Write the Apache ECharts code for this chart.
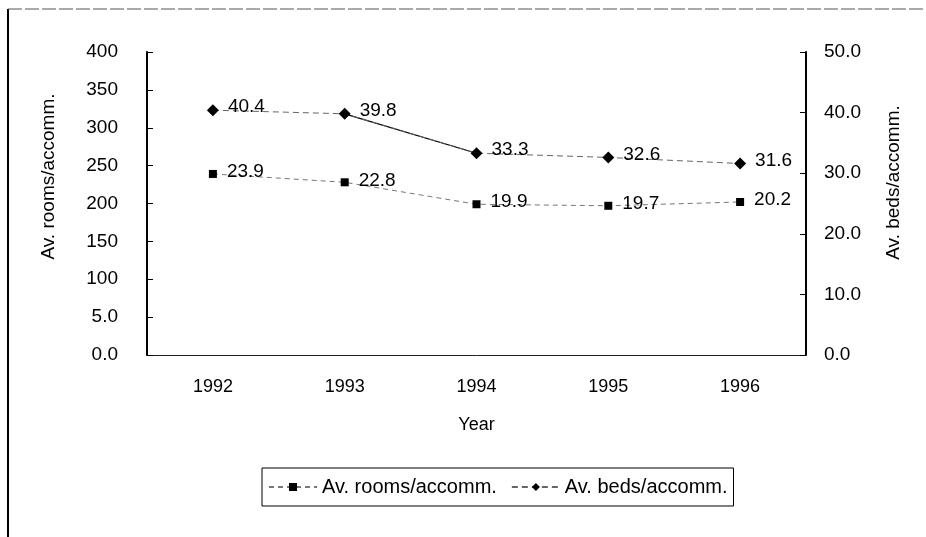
<!DOCTYPE html>
<html>
<head>
<meta charset="utf-8">
<script src="https://cdn.jsdelivr.net/npm/echarts@6/dist/echarts.min.js"></script>
<style>
html,body{margin:0;padding:0;background:#fff;}
#c{width:926px;height:537px;}
</style>
</head>
<body>
<div id="c"></div>
<script>
const years = ['1992', '1993', '1994', '1995', '1996'];
const rooms = [23.9, 22.8, 19.9, 19.7, 20.2];
const beds = [40.4, 39.8, 33.3, 32.6, 31.6];
const leftTickLabels = ['0.0', '5.0', '100', '150', '200', '250', '300', '350', '400'];
const rightTickLabels = ['0.0', '10.0', '20.0', '30.0', '40.0', '50.0'];

const FONT = 'Liberation Sans, Arial, sans-serif';
const bedsSolidPart = beds.map(function (v, i) { return (i === 1 || i === 2) ? v : null; });

const chart = echarts.init(document.getElementById('c'));
chart.setOption({
  animation: false,
  backgroundColor: '#fff',
  textStyle: { fontFamily: FONT },
  graphic: [
    { type: 'line', shape: { x1: 8, y1: 9, x2: 8, y2: 537 }, style: { stroke: '#000', lineWidth: 2 } },
    { type: 'line', shape: { x1: 8, y1: 9, x2: 926, y2: 9 }, style: { stroke: '#555', lineWidth: 1, lineDash: [14, 3] } }
  ],
  grid: { left: 147, right: 120, top: 52, bottom: 182, containLabel: false },
  legend: {
    left: 262, top: 468,
    padding: [9, 6, 9, 6],
    borderColor: '#000', borderWidth: 1,
    itemWidth: 48, itemHeight: 10, itemGap: 14,
    textStyle: { fontFamily: FONT, fontSize: 20, color: '#000' },
    data: ['Av. rooms/accomm.', 'Av. beds/accomm.']
  },
  xAxis: {
    type: 'category', data: years, boundaryGap: true,
    name: 'Year', nameLocation: 'middle', nameGap: 61,
    nameTextStyle: { fontFamily: FONT, fontSize: 18, color: '#000' },
    axisLine: { lineStyle: { color: '#222', width: 1 } },
    axisTick: { inside: true, length: 5, lineStyle: { color: '#000' } },
    axisLabel: { margin: 23, fontSize: 18, color: '#000', fontFamily: FONT }
  },
  yAxis: [
    {
      type: 'value', min: 0, max: 40, interval: 5, position: 'left',
      name: 'Av. rooms/accomm.', nameLocation: 'middle', nameGap: 89,
      nameTextStyle: { fontFamily: FONT, fontSize: 19, color: '#000', padding: [0, 0, 0, 54] },
      axisLine: { show: true, lineStyle: { color: '#000', width: 2 } },
      axisTick: { show: true, inside: true, length: 6, lineStyle: { color: '#000' } },
      splitLine: { show: false },
      axisLabel: {
        margin: 29, fontSize: 19, color: '#000', fontFamily: FONT,
        formatter: function (v) { return leftTickLabels[Math.round(v / 5)]; }
      }
    },
    {
      type: 'value', min: 0, max: 50, interval: 10, position: 'right',
      name: 'Av. beds/accomm.', nameLocation: 'middle', nameGap: 78,
      nameTextStyle: { fontFamily: FONT, fontSize: 19, color: '#000', padding: [0, 0, 0, 42] },
      axisLine: { show: true, lineStyle: { color: '#000', width: 2 } },
      axisTick: { show: true, inside: true, length: 6, lineStyle: { color: '#000' } },
      splitLine: { show: false },
      axisLabel: {
        margin: 18, fontSize: 19, color: '#000', fontFamily: FONT,
        formatter: function (v) { return rightTickLabels[Math.round(v / 10)]; }
      }
    }
  ],
  series: [
    {
      name: 'Av. rooms/accomm.', type: 'line', yAxisIndex: 0, data: rooms,
      symbol: 'rect', symbolSize: 8,
      itemStyle: { color: '#000' },
      lineStyle: { color: '#777', width: 1, type: [5, 4] },
      label: {
        show: true, position: 'right', distance: 10, offset: [0, -2],
        fontSize: 19, color: '#000', fontFamily: FONT,
        formatter: function (p) { return p.value.toFixed(1); }
      }
    },
    {
      name: 'Av. beds/accomm.', type: 'line', yAxisIndex: 1, data: beds,
      symbol: 'diamond', symbolSize: 12,
      itemStyle: { color: '#000' },
      lineStyle: { color: '#666', width: 1, type: [6, 4] },
      label: {
        show: true, position: 'right', distance: 9, offset: [0, -3],
        fontSize: 19, color: '#000', fontFamily: FONT,
        formatter: function (p) { return p.value.toFixed(1); }
      },
      z: 3
    },
    {
      name: 'beds-solid', type: 'line', yAxisIndex: 1, data: bedsSolidPart,
      symbol: 'none', silent: true, connectNulls: false,
      lineStyle: { color: '#000', width: 1.2, type: 'solid' },
      label: { show: false },
      z: 2
    }
  ]
});
</script>
</body>
</html>
